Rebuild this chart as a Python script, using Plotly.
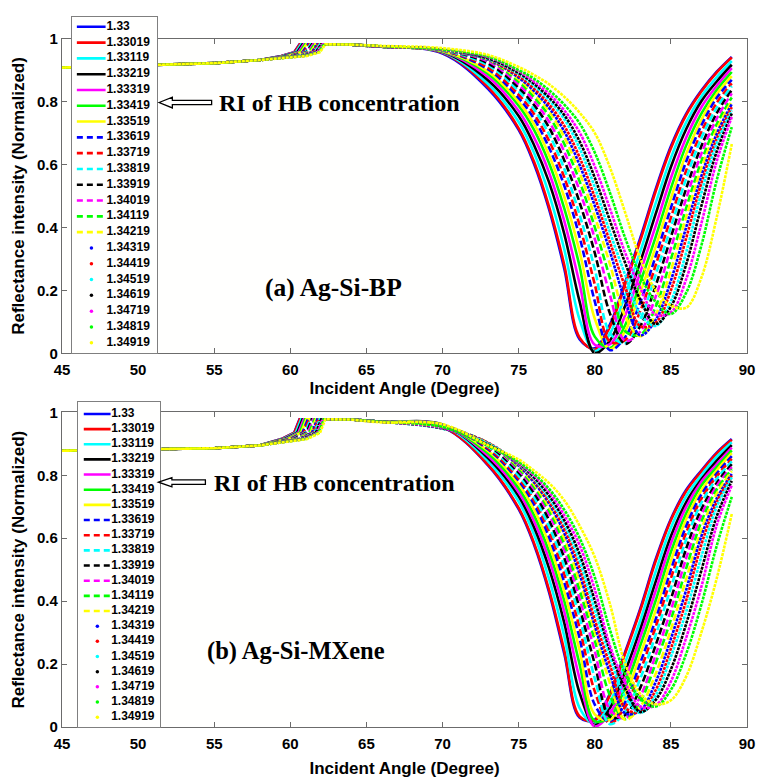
import plotly.graph_objects as go

# ---------------- data ----------------
RI_LABELS = ["1.33", "1.33019", "1.33119", "1.33219", "1.33319", "1.33419", "1.33519",
             "1.33619", "1.33719", "1.33819", "1.33919", "1.34019", "1.34119", "1.34219",
             "1.34319", "1.34419", "1.34519", "1.34619", "1.34719", "1.34819", "1.34919"]
COLORS = ["#0000ff", "#ff0000", "#00ffff", "#000000", "#ff00ff", "#00ff00", "#ffff00"] * 3
STYLES = ["solid"] * 7 + ["dash"] * 7 + ["dot"] * 7

X_TICKS = [45, 50, 55, 60, 65, 70, 75, 80, 85, 90]
Y_TICKS = [0, 0.2, 0.4, 0.6, 0.8, 1]
Y_TICK_TEXT = ["0", "0.2", "0.4", "0.6", "0.8", "1"]

FLAT_ANGLES = [45, 50, 55, 58]
KNEE_OFFSETS = [-1.2, -0.35, 0.0]          # angles relative to each curve's critical angle
PLATEAU_ANGLE = [64]
DIP_ANGLES = [66, 70, 73, 75, 76, 77, 78, 79, 80, 81, 82, 83, 84, 85, 86, 87, 88, 89]

CRIT_ANGLES = [60.60, 60.62, 60.71, 60.80, 60.88, 60.97, 61.06, 61.15, 61.24, 61.33, 61.42,
               61.50, 61.59, 61.68, 61.77, 61.86, 61.94, 62.03, 62.12, 62.21, 62.30]

# panel (a) Ag-Si-BP
FLAT_BP = [0.908, 0.914, 0.922, 0.932]
KNEE_BP = [0.945, 0.957, 0.982]
PLATEAU_BP = [0.981]
BP_1_33000 = [0.975, 0.953, 0.840, 0.710, 0.603, 0.457, 0.268, 0.045, 0.016, 0.092, 0.227, 0.368, 0.522, 0.658, 0.761, 0.835, 0.894, 0.942]
BP_1_33019 = [0.975, 0.955, 0.845, 0.715, 0.610, 0.465, 0.280, 0.050, 0.013, 0.085, 0.220, 0.360, 0.515, 0.652, 0.757, 0.832, 0.892, 0.940]
BP_1_33119 = [0.975, 0.957, 0.856, 0.735, 0.638, 0.505, 0.330, 0.108, 0.007, 0.063, 0.185, 0.325, 0.477, 0.621, 0.734, 0.816, 0.877, 0.929]
BP_1_33219 = [0.975, 0.958, 0.867, 0.754, 0.663, 0.543, 0.379, 0.165, 0.001, 0.041, 0.152, 0.292, 0.443, 0.592, 0.712, 0.801, 0.863, 0.917]
BP_1_33319 = [0.975, 0.959, 0.878, 0.770, 0.687, 0.574, 0.420, 0.222, 0.027, 0.029, 0.121, 0.259, 0.405, 0.557, 0.685, 0.782, 0.849, 0.906]
BP_1_33419 = [0.975, 0.960, 0.888, 0.787, 0.711, 0.604, 0.460, 0.277, 0.053, 0.017, 0.090, 0.227, 0.370, 0.524, 0.660, 0.762, 0.836, 0.894]
BP_1_33519 = [0.974, 0.961, 0.895, 0.799, 0.729, 0.629, 0.496, 0.324, 0.110, 0.013, 0.071, 0.195, 0.339, 0.492, 0.633, 0.742, 0.823, 0.881]
BP_1_33619 = [0.974, 0.962, 0.902, 0.811, 0.746, 0.653, 0.532, 0.370, 0.165, 0.010, 0.052, 0.164, 0.309, 0.462, 0.609, 0.724, 0.811, 0.869]
BP_1_33719 = [0.974, 0.962, 0.908, 0.822, 0.761, 0.675, 0.559, 0.407, 0.219, 0.037, 0.042, 0.136, 0.280, 0.431, 0.580, 0.703, 0.795, 0.858]
BP_1_33819 = [0.974, 0.963, 0.915, 0.833, 0.776, 0.696, 0.586, 0.441, 0.268, 0.064, 0.032, 0.109, 0.250, 0.401, 0.555, 0.684, 0.780, 0.849]
BP_1_33919 = [0.974, 0.964, 0.921, 0.844, 0.790, 0.717, 0.613, 0.480, 0.319, 0.126, 0.030, 0.087, 0.215, 0.369, 0.523, 0.658, 0.762, 0.837]
BP_1_34019 = [0.974, 0.964, 0.927, 0.854, 0.803, 0.736, 0.640, 0.517, 0.364, 0.185, 0.040, 0.070, 0.180, 0.334, 0.491, 0.634, 0.745, 0.826]
BP_1_34119 = [0.974, 0.964, 0.932, 0.863, 0.815, 0.754, 0.665, 0.547, 0.401, 0.238, 0.070, 0.059, 0.148, 0.299, 0.461, 0.610, 0.727, 0.813]
BP_1_34219 = [0.974, 0.964, 0.933, 0.871, 0.825, 0.769, 0.687, 0.574, 0.435, 0.283, 0.117, 0.054, 0.123, 0.264, 0.433, 0.587, 0.710, 0.802]
BP_1_34319 = [0.974, 0.964, 0.933, 0.876, 0.834, 0.780, 0.705, 0.599, 0.469, 0.323, 0.167, 0.057, 0.106, 0.231, 0.400, 0.563, 0.696, 0.792]
BP_1_34419 = [0.975, 0.964, 0.934, 0.881, 0.842, 0.791, 0.723, 0.623, 0.496, 0.353, 0.210, 0.086, 0.097, 0.200, 0.365, 0.540, 0.680, 0.782]
BP_1_34519 = [0.975, 0.964, 0.935, 0.888, 0.851, 0.804, 0.744, 0.652, 0.528, 0.384, 0.249, 0.124, 0.087, 0.165, 0.320, 0.510, 0.665, 0.772]
BP_1_34619 = [0.975, 0.965, 0.937, 0.891, 0.857, 0.813, 0.757, 0.674, 0.558, 0.421, 0.287, 0.169, 0.093, 0.148, 0.282, 0.468, 0.640, 0.762]
BP_1_34719 = [0.975, 0.965, 0.941, 0.897, 0.864, 0.824, 0.772, 0.702, 0.594, 0.459, 0.319, 0.206, 0.123, 0.130, 0.235, 0.412, 0.609, 0.751]
BP_1_34819 = [0.976, 0.966, 0.943, 0.900, 0.873, 0.836, 0.790, 0.731, 0.638, 0.510, 0.366, 0.246, 0.163, 0.125, 0.192, 0.342, 0.548, 0.719]
BP_1_34919 = [0.977, 0.970, 0.948, 0.910, 0.885, 0.855, 0.815, 0.765, 0.700, 0.590, 0.447, 0.300, 0.200, 0.152, 0.145, 0.240, 0.430, 0.665]

# panel (b) Ag-Si-MXene
FLAT_MX = [0.878, 0.881, 0.886, 0.895]
KNEE_MX = [0.915, 0.935, 0.978]
PLATEAU_MX = [0.977]
MX_1_33000 = [0.970, 0.953, 0.831, 0.692, 0.581, 0.428, 0.232, 0.030, 0.023, 0.107, 0.239, 0.378, 0.533, 0.661, 0.753, 0.815, 0.871, 0.915]
MX_1_33019 = [0.970, 0.954, 0.833, 0.696, 0.586, 0.435, 0.242, 0.034, 0.021, 0.102, 0.234, 0.372, 0.527, 0.657, 0.749, 0.812, 0.869, 0.913]
MX_1_33119 = [0.970, 0.959, 0.844, 0.716, 0.613, 0.470, 0.288, 0.061, 0.011, 0.078, 0.205, 0.340, 0.494, 0.633, 0.733, 0.800, 0.858, 0.905]
MX_1_33219 = [0.970, 0.961, 0.854, 0.733, 0.636, 0.504, 0.330, 0.109, 0.006, 0.060, 0.177, 0.312, 0.462, 0.606, 0.714, 0.787, 0.846, 0.896]
MX_1_33319 = [0.970, 0.960, 0.861, 0.746, 0.655, 0.532, 0.366, 0.154, 0.002, 0.043, 0.151, 0.287, 0.433, 0.583, 0.699, 0.779, 0.835, 0.888]
MX_1_33419 = [0.970, 0.960, 0.869, 0.759, 0.674, 0.557, 0.400, 0.200, 0.019, 0.032, 0.126, 0.260, 0.402, 0.556, 0.678, 0.767, 0.825, 0.879]
MX_1_33519 = [0.970, 0.960, 0.877, 0.772, 0.692, 0.581, 0.430, 0.244, 0.040, 0.022, 0.100, 0.232, 0.371, 0.528, 0.660, 0.752, 0.815, 0.870]
MX_1_33619 = [0.970, 0.959, 0.882, 0.782, 0.708, 0.603, 0.459, 0.283, 0.071, 0.015, 0.079, 0.205, 0.342, 0.499, 0.638, 0.739, 0.805, 0.861]
MX_1_33719 = [0.970, 0.959, 0.886, 0.790, 0.721, 0.622, 0.485, 0.316, 0.113, 0.012, 0.064, 0.180, 0.318, 0.472, 0.617, 0.725, 0.796, 0.852]
MX_1_33819 = [0.970, 0.959, 0.891, 0.798, 0.731, 0.637, 0.511, 0.349, 0.154, 0.009, 0.049, 0.155, 0.292, 0.442, 0.595, 0.712, 0.788, 0.844]
MX_1_33919 = [0.970, 0.957, 0.895, 0.808, 0.744, 0.657, 0.537, 0.379, 0.200, 0.033, 0.038, 0.126, 0.260, 0.406, 0.566, 0.692, 0.775, 0.835]
MX_1_34019 = [0.970, 0.957, 0.899, 0.816, 0.756, 0.676, 0.562, 0.408, 0.241, 0.055, 0.028, 0.098, 0.229, 0.371, 0.536, 0.673, 0.765, 0.826]
MX_1_34119 = [0.970, 0.955, 0.901, 0.821, 0.764, 0.688, 0.581, 0.435, 0.275, 0.100, 0.025, 0.082, 0.203, 0.341, 0.503, 0.652, 0.754, 0.819]
MX_1_34219 = [0.970, 0.952, 0.903, 0.827, 0.772, 0.700, 0.600, 0.464, 0.304, 0.139, 0.023, 0.065, 0.169, 0.310, 0.469, 0.627, 0.741, 0.813]
MX_1_34319 = [0.970, 0.951, 0.903, 0.830, 0.778, 0.710, 0.616, 0.486, 0.322, 0.170, 0.043, 0.053, 0.143, 0.280, 0.435, 0.606, 0.725, 0.804]
MX_1_34419 = [0.970, 0.949, 0.903, 0.834, 0.785, 0.718, 0.632, 0.507, 0.342, 0.197, 0.061, 0.047, 0.117, 0.249, 0.401, 0.579, 0.713, 0.799]
MX_1_34519 = [0.970, 0.948, 0.901, 0.836, 0.790, 0.727, 0.645, 0.529, 0.373, 0.224, 0.095, 0.045, 0.100, 0.223, 0.366, 0.541, 0.698, 0.793]
MX_1_34619 = [0.970, 0.949, 0.897, 0.838, 0.794, 0.736, 0.657, 0.550, 0.402, 0.243, 0.123, 0.048, 0.086, 0.183, 0.327, 0.497, 0.668, 0.782]
MX_1_34719 = [0.970, 0.950, 0.894, 0.839, 0.800, 0.747, 0.672, 0.578, 0.437, 0.257, 0.140, 0.065, 0.069, 0.145, 0.283, 0.445, 0.640, 0.768]
MX_1_34819 = [0.970, 0.953, 0.893, 0.842, 0.805, 0.757, 0.690, 0.601, 0.476, 0.308, 0.169, 0.090, 0.065, 0.118, 0.232, 0.388, 0.574, 0.731]
MX_1_34919 = [0.968, 0.962, 0.895, 0.850, 0.815, 0.775, 0.720, 0.640, 0.540, 0.390, 0.200, 0.105, 0.072, 0.085, 0.160, 0.300, 0.470, 0.677]

BP_ROWS = [BP_1_33000, BP_1_33019, BP_1_33119, BP_1_33219, BP_1_33319, BP_1_33419, BP_1_33519,
           BP_1_33619, BP_1_33719, BP_1_33819, BP_1_33919, BP_1_34019, BP_1_34119, BP_1_34219,
           BP_1_34319, BP_1_34419, BP_1_34519, BP_1_34619, BP_1_34719, BP_1_34819, BP_1_34919]
MX_ROWS = [MX_1_33000, MX_1_33019, MX_1_33119, MX_1_33219, MX_1_33319, MX_1_33419, MX_1_33519,
           MX_1_33619, MX_1_33719, MX_1_33819, MX_1_33919, MX_1_34019, MX_1_34119, MX_1_34219,
           MX_1_34319, MX_1_34419, MX_1_34519, MX_1_34619, MX_1_34719, MX_1_34819, MX_1_34919]

# ---------------- styling ----------------
SANS = "Arial, Liberation Sans, sans-serif"
SERIF = "Times New Roman, Liberation Serif, serif"
LINE_DASH = {"solid": "solid", "dash": "7px,3px", "dot": "3px,1px"}
LEGEND_DASH = {"solid": "solid", "dash": "6px,4px"}
AXIS_GREY = "#6b6b6b"

fig = go.Figure()


def add_curves(rows, flat, knee, plateau, xref, yref):
    for i, row in enumerate(rows):
        c = CRIT_ANGLES[i]
        line = dict(color=COLORS[i], width=2.6, dash=LINE_DASH[STYLES[i]])
        # approach to the critical angle: straight segments (sharp onset of total reflection)
        xs_left = FLAT_ANGLES + [c + o for o in KNEE_OFFSETS] + PLATEAU_ANGLE
        ys_left = flat + knee + plateau
        fig.add_trace(go.Scatter(x=xs_left, y=ys_left, mode="lines", xaxis=xref, yaxis=yref,
                                 line=line, showlegend=False, hoverinfo="skip"))
        # resonance dip: smooth curve
        fig.add_trace(go.Scatter(
            x=PLATEAU_ANGLE + DIP_ANGLES, y=plateau + row, mode="lines",
            xaxis=xref, yaxis=yref,
            line=dict(line, shape="spline", smoothing=1.0),
            showlegend=False, hoverinfo="skip"))


def add_legend(xref, yref, x0, x1, xdot, xtext):
    for i, lab in enumerate(RI_LABELS):
        if STYLES[i] == "dot":
            fig.add_trace(go.Scatter(
                x=[xdot], y=[i], mode="markers", xaxis=xref, yaxis=yref,
                marker=dict(color=COLORS[i], size=3.5),
                showlegend=False, hoverinfo="skip"))
        else:
            fig.add_trace(go.Scatter(
                x=[x0, x1], y=[i, i], mode="lines", xaxis=xref, yaxis=yref,
                line=dict(color=COLORS[i], width=2.6, dash=LEGEND_DASH[STYLES[i]]),
                showlegend=False, hoverinfo="skip"))
    fig.add_trace(go.Scatter(
        x=[xtext] * len(RI_LABELS), y=list(range(len(RI_LABELS))), mode="text",
        text=RI_LABELS, textposition="middle right", xaxis=xref, yaxis=yref,
        textfont=dict(family=SANS, size=12, color="black", weight="bold"),
        showlegend=False, hoverinfo="skip"))


add_curves(BP_ROWS, FLAT_BP, KNEE_BP, PLATEAU_BP, "x", "y")
add_curves(MX_ROWS, FLAT_MX, KNEE_MX, PLATEAU_MX, "x2", "y2")
add_legend("x3", "y3", 0.058, 0.395, 0.229, 0.405)
add_legend("x4", "y4", 0.072, 0.398, 0.237, 0.405)

tickfont = dict(family=SANS, size=15, color="black", weight="bold")
titlefont = dict(family=SANS, size=17, color="black", weight="bold")


def main_xaxis(anchor, standoff):
    return dict(domain=[0, 1], anchor=anchor, range=[45, 90], tickvals=X_TICKS,
                showline=True, linecolor=AXIS_GREY, linewidth=1.3, mirror="ticks",
                ticks="inside", ticklen=5, tickwidth=1.1, tickcolor=AXIS_GREY,
                showgrid=False, zeroline=False, tickfont=tickfont, ticklabelstandoff=3,
                title=dict(text="Incident Angle (Degree)", font=titlefont, standoff=standoff))


def main_yaxis(anchor, domain):
    return dict(domain=domain, anchor=anchor, range=[0, 1], tickvals=Y_TICKS,
                ticktext=Y_TICK_TEXT, showline=True, linecolor=AXIS_GREY, linewidth=1.3,
                mirror="ticks", ticks="inside", ticklen=5, tickwidth=1.1,
                tickcolor=AXIS_GREY, showgrid=False, zeroline=False, tickfont=tickfont,
                title=dict(text="Reflectance intensity (Normalized)", font=titlefont,
                           standoff=8))


def legend_axis(domain, anchor, rng):
    return dict(domain=domain, anchor=anchor, range=rng, showline=True, mirror=True,
                linecolor="#7f7f7f", linewidth=1.3, ticks="", showticklabels=False,
                showgrid=False, zeroline=False, fixedrange=True)


fig.update_layout(
    width=763, height=782,
    margin=dict(l=62, r=10, t=8, b=52),
    paper_bgcolor="white", plot_bgcolor="#fffffe",
    showlegend=False,
    xaxis=main_xaxis("y", 4),
    yaxis=main_yaxis("x", [0.52632, 0.96953]),
    xaxis2=main_xaxis("y2", 10),
    yaxis2=main_yaxis("x2", [0.0, 0.44321]),
    xaxis3=legend_axis([0.01447, 0.13893], "y3", [0, 1]),
    yaxis3=legend_axis([0.52632, 1.0], "x3", [20.67, -0.62]),
    xaxis4=legend_axis([0.02315, 0.14327], "y4", [0, 1]),
    yaxis4=legend_axis([0.0, 0.45845], "x4", [20.65, -0.82]),
)

# labels
serif_ri = dict(family=SERIF, size=24, color="black", weight="bold")
fig.add_annotation(x=55.16, y=0.797, xref="x", yref="y", text="RI of HB concentration",
                   showarrow=False, xanchor="left", yanchor="middle", font=serif_ri)
fig.add_annotation(x=54.83, y=0.776, xref="x2", yref="y2", text="RI of HB concentration",
                   showarrow=False, xanchor="left", yanchor="middle", font=serif_ri)
fig.add_annotation(x=62.81, y=0.209, xref="x", yref="y", text="(a) Ag-Si-BP",
                   showarrow=False, xanchor="center", yanchor="middle",
                   font=dict(serif_ri, size=25.5))
fig.add_annotation(x=60.34, y=0.240, xref="x2", yref="y2", text="(b) Ag-Si-MXene",
                   showarrow=False, xanchor="center", yanchor="middle",
                   font=dict(serif_ri, size=24.5))


def hollow_arrow(xref, yref, tip_x, base_x, end_x, yc, head_h, shaft_h):
    path = (f"M {tip_x},{yc} L {base_x},{yc + head_h} L {base_x},{yc + shaft_h} "
            f"L {end_x},{yc + shaft_h} L {end_x},{yc - shaft_h} L {base_x},{yc - shaft_h} "
            f"L {base_x},{yc - head_h} Z")
    fig.add_shape(type="path", path=path, xref=xref, yref=yref,
                  line=dict(color="black", width=1.3), fillcolor="white")


hollow_arrow("x", "y", 51.38, 52.25, 54.83, 0.797, 0.0172, 0.0069)
hollow_arrow("x2", "y2", 51.34, 52.22, 54.42, 0.778, 0.0145, 0.0072)

fig.write_html("out.html")
